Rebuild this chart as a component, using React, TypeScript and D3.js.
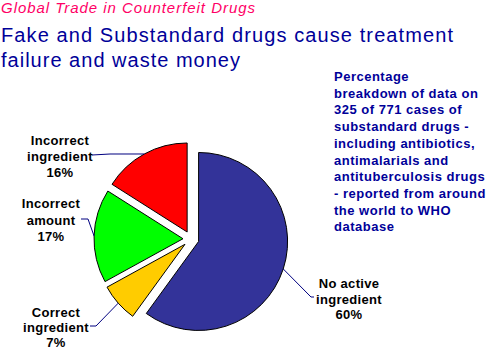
import React from "react";
import * as d3 from "d3";

const categories = ["No active ingredient", "Correct ingredient", "Incorrect amount", "Incorrect ingredient"];
const labelLines = [["No active", "ingredient"], ["Correct", "ingredient"], ["Incorrect", "amount"], ["Incorrect", "ingredient"]];
const values = [60, 7, 17, 16];
const colors = ["#333399", "#FFCC00", "#00FF00", "#FF0000"];

const titleSmall = "Global Trade in Counterfeit Drugs";
const titleLines = ["Fake and Substandard drugs cause treatment", "failure and waste money"];
const noteLines = [
  "Percentage",
  "breakdown of data on",
  "325 of 771 cases of",
  "substandard drugs -",
  "including antibiotics,",
  "antimalarials and",
  "antituberculosis drugs",
  "- reported from around",
  "the world to WHO",
  "database",
];

// layout
const W = 488, H = 349;
const CX = 191, CY = 239, R = 89, EXPLODE = 8;
// label layout: text centre x, first baseline y, line step, leader elbow, leader end
const labelLayout = [
  { x: 349, y: 288, step: 15.5, elbow: [311, 297], end: [314, 297] },
  { x: 56, y: 316.5, step: 15, elbow: [96, 326], end: [90, 326] },
  { x: 51, y: 208, step: 16.5, elbow: [88, 219], end: [81, 219] },
  { x: 60, y: 145, step: 16, elbow: [110, 154], end: [92, 155] },
];

export default function App() {
  const pie = d3.pie<number>().sort(null).value((d) => d).startAngle(0).endAngle(2 * Math.PI);
  const arcs = pie(values);
  const arc = d3.arc<d3.PieArcDatum<number>>().innerRadius(0).outerRadius(R);

  return (
    <svg width={W} height={H} style={{ position: "absolute", left: 0, top: 0, background: "#fff" }}
      fontFamily="'Liberation Sans', Arial, sans-serif">
      <text x={1} y={13} fontSize={15} fontStyle="italic" fill="#FF0066" textLength={254} lengthAdjust="spacing">
        {titleSmall}
      </text>
      <text x={1} y={42} fontSize={20} fill="#000099" textLength={452} lengthAdjust="spacing">{titleLines[0]}</text>
      <text x={1} y={67} fontSize={20} fill="#000099" textLength={239} lengthAdjust="spacing">{titleLines[1]}</text>

      {noteLines.map((t, i) => (
        <text key={i} x={334} y={81 + i * 16.7} fontSize={13} fontWeight="bold" fill="#000099" letterSpacing={0.5}>
          {t}
        </text>
      ))}

      {arcs.map((a, i) => {
        const mid = (a.startAngle + a.endAngle) / 2;
        const ox = CX + EXPLODE * Math.sin(mid);
        const oy = CY - EXPLODE * Math.cos(mid);
        const px = ox + R * Math.sin(mid);
        const py = oy - R * Math.cos(mid);
        const L = labelLayout[i];
        return (
          <g key={i}>
            <path d={arc(a) || ""} transform={`translate(${ox},${oy})`} fill={colors[i]} stroke="#000" strokeWidth={1} />
            <polyline points={`${px},${py} ${L.elbow[0]},${L.elbow[1]} ${L.end[0]},${L.end[1]}`} fill="none" stroke="#000080" strokeWidth={1} />
          </g>
        );
      })}

      {arcs.map((a, i) => {
        const L = labelLayout[i];
        const lines = [...labelLines[i], `${values[i]}%`];
        return (
          <g key={"l" + i}>
            {lines.map((t, j) => (
              <text key={j} x={L.x} y={L.y + j * L.step} fontSize={13} fontWeight="bold" fill="#000" textAnchor="middle" letterSpacing={0.3}>
                {t}
              </text>
            ))}
          </g>
        );
      })}
    </svg>
  );
}
